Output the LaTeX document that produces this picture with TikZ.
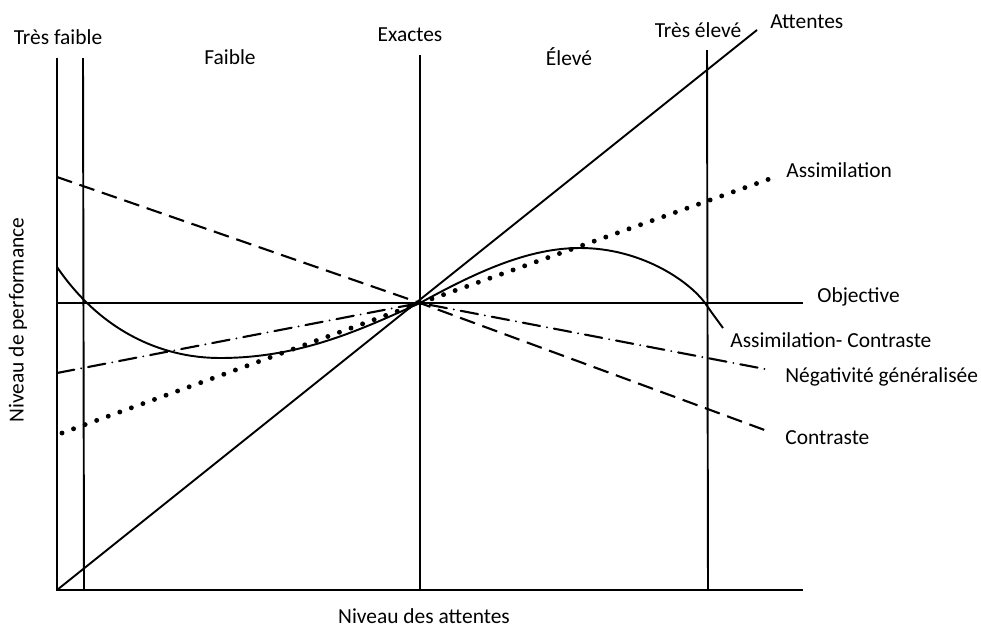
\documentclass[tikz,border=0pt]{standalone}
\usepackage{fontspec}
\setmainfont{Carlito}
\tikzset{
  trait/.style={line width=1.1pt},
  tirets/.style={line width=1.2pt, dash pattern=on 9pt off 4.5pt},
  points/.style={line width=2.8pt, line cap=round, dash pattern=on 0pt off 7pt},
  mixte/.style={line width=1.2pt, line cap=round, dash pattern=on 10pt off 4pt on 0pt off 4pt},
  etiq/.style={font=\fontsize{12.2}{14}\selectfont, inner sep=0pt}
}
\begin{document}
\begin{tikzpicture}[x=0.02cm, y=-0.02cm]
\useasboundingbox (0,0) rectangle (981,629);
% reperes
\coordinate (O) at (57,590);
\coordinate (C) at (420,303);
\coordinate (Fd) at (803,590);
\coordinate (Ob1) at (57,303);
\coordinate (Ob2) at (803,303);
\coordinate (A1) at (57,590);
\coordinate (A2) at (757,30);
\coordinate (As1) at (62,433);
\coordinate (As2) at (775,177);
\coordinate (Co1) at (57,177);
\coordinate (Co2) at (770,432);
\coordinate (Ng1) at (57,373);
\coordinate (Ng2) at (770,370);

% axes et verticales
\draw[trait] (57,58) -- (O) -- (Fd);
\draw[trait] (83,58) -- (84,590);
\draw[trait] (420,55) -- (420,590);
\draw[trait] (707,50) -- (708,590);
\draw[trait] (Ob1) -- (Ob2);

% courbes
\draw[trait] (A1) -- (A2);
\draw[points] (As1) -- (C) -- (As2);
\draw[tirets] (Co1) -- (C) -- (Co2);
\draw[mixte] (Ng1) -- (C) -- (Ng2);
\draw[trait] (57,267) .. controls (100,330) and (160,358) .. (220,358)
  .. controls (300,358) and (360,330) .. (C)
  .. controls (480,270) and (530,248) .. (580,248)
  .. controls (640,248) and (688,280) .. (705,303)
  .. controls (712,313) .. (723,328);

% etiquettes
\node[etiq] (tf) at (58,37) {Très faible};
\node[etiq] (f) at (230,57) {Faible};
\node[etiq] (ex) at (410,35) {Exactes};
\node[etiq] (el) at (569,57) {Élevé};
\node[etiq] (te) at (698,30) {Très élevé};
\node[etiq, anchor=west] (at) at (770,22) {Attentes};
\node[etiq, anchor=west] (as) at (786,170) {Assimilation};
\node[etiq, anchor=west] (ob) at (817,297) {Objective};
\node[etiq, anchor=west] (ac) at (730,340) {Assimilation- Contraste};
\node[etiq, anchor=west] (ng) at (785,377) {Négativité généralisée};
\node[etiq, anchor=west] (ct) at (785,438) {Contraste};
\node[etiq] (nx) at (424,616) {Niveau des attentes};
\node[etiq, rotate=90] (ny) at (18,320) {Niveau de performance};
\end{tikzpicture}
\end{document}
